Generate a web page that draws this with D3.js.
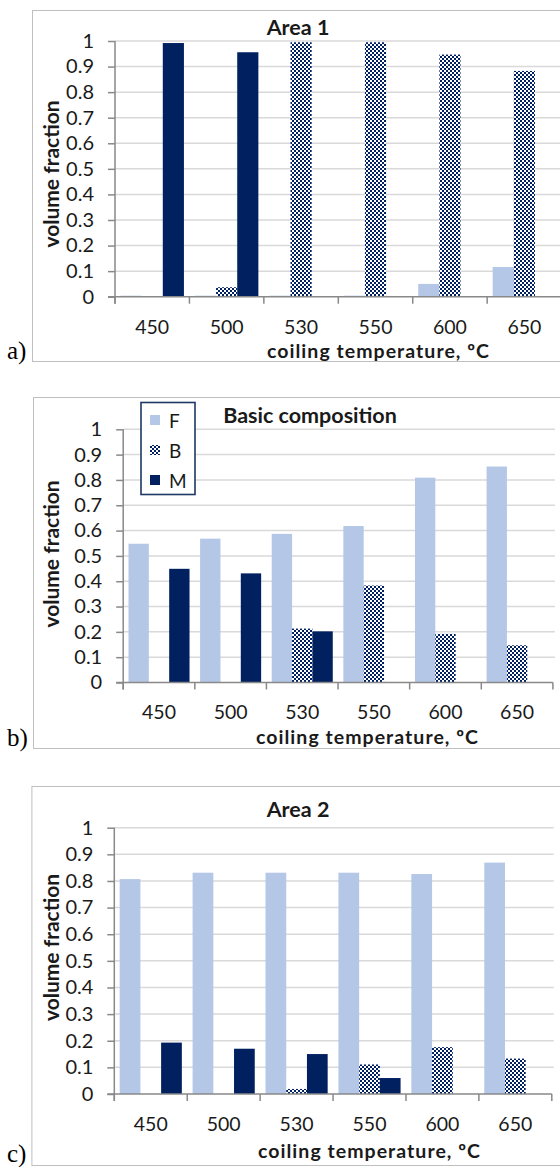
<!DOCTYPE html>
<html><head><meta charset="utf-8">
<script src="https://cdn.jsdelivr.net/npm/d3@7"></script>
<style>body{margin:0;background:#fff} svg{display:block}</style>
</head><body>
<svg id="c" width="560" height="1167"></svg>
<script>
// ---------- data ----------
const categories = ["450","500","530","550","600","650"];
const seriesNames = ["F","B","M"];
const yTickValues = [0,0.1,0.2,0.3,0.4,0.5,0.6,0.7,0.8,0.9,1];
const yTickLabels = ["0","0.1","0.2","0.3","0.4","0.5","0.6","0.7","0.8","0.9","1"];

const area1F = [0.004,0.004,0.004,0.004,0.050,0.116];
const area1B = [0,0.037,0.995,0.995,0.947,0.883];
const area1M = [0.992,0.956,0,0,0,0];

const basicF = [0.548,0.568,0.587,0.618,0.809,0.853];
const basicB = [0,0,0.213,0.383,0.192,0.147];
const basicM = [0.449,0.431,0.202,0,0,0];

const area2F = [0.807,0.831,0.831,0.831,0.826,0.869];
const area2B = [0,0,0.019,0.111,0.176,0.133];
const area2M = [0.193,0.170,0.150,0.060,0,0];

const titles = ["Area 1","Basic composition","Area 2"];
const panelLabels = ["a)","b)","c)"];
const xAxisTitle = "coiling temperature, \u00baC";
const yAxisTitle = "volume fraction";

// ---------- layout ----------
const panels = [
  {F:area1F,B:area1B,M:area1M,title:titles[0],label:panelLabels[0],
   frame:{x:32,y:10,b:361}, left:115,right:561.6,top:41,bottom:296.7,
   titleXY:[298,27], xLabY:326.5, xTitleXY:[378,350], yTitleXY:[50,174], labelY:359, legend:false},
  {F:basicF,B:basicB,M:basicM,title:titles[1],label:panelLabels[1],
   frame:{x:33,y:397,b:748}, left:123.2,right:552.9,top:429.3,bottom:682.5,
   titleXY:[310,415], xLabY:711, xTitleXY:[367,736], yTitleXY:[50,554], labelY:746, legend:true},
  {F:area2F,B:area2B,M:area2M,title:titles[2],label:panelLabels[2],
   frame:{x:31.4,y:786,b:1165}, left:114.3,right:551.8,top:827.7,bottom:1094,
   titleXY:[298,809], xLabY:1123, xTitleXY:[369,1150], yTitleXY:[50,947.5], labelY:1162, legend:false}
];

const colF = "#b4c7e7", colM = "#002060";
const font = "Lato, 'Open Sans', sans-serif";
const svg = d3.select("#c");

const defs = svg.append("defs");
const pat = defs.append("pattern").attr("id","chk").attr("width",4).attr("height",4)
  .attr("patternUnits","userSpaceOnUse");
pat.append("rect").attr("width",4).attr("height",4).attr("fill","#fff");
pat.append("rect").attr("width",2).attr("height",2).attr("fill",colM);
pat.append("rect").attr("x",2).attr("y",2).attr("width",2).attr("height",2).attr("fill",colM);

const fills = {F:colF, B:"url(#chk)", M:colM};

panels.forEach(p => {
  const g = svg.append("g");
  // frame
  g.append("rect").attr("x",p.frame.x+0.5).attr("y",p.frame.y+0.5)
    .attr("width",620).attr("height",p.frame.b-p.frame.y)
    .attr("fill","#fff").attr("stroke","#bfbfbf").attr("stroke-width",1);

  const x = d3.scaleBand().domain(categories).range([p.left,p.right]).paddingInner(0).paddingOuter(0);
  const xi = d3.scaleBand().domain(seriesNames).range([0,x.bandwidth()]).paddingInner(0).paddingOuter(0.26);
  const y = d3.scaleLinear().domain([0,1]).range([p.bottom,p.top]);

  // gridlines
  g.append("g").selectAll("line").data(yTickValues.filter(v=>v>0)).join("line")
    .attr("x1",p.left).attr("x2",p.right+2).attr("y1",d=>y(d)).attr("y2",d=>y(d))
    .attr("stroke","#d9d9d9").attr("stroke-width",1.5);

  // bars
  const bars = [];
  categories.forEach((c,i)=>seriesNames.forEach(s=>{
    const v = p[s][i];
    if (v>0) bars.push({c,s,v});
  }));
  g.append("g").selectAll("rect").data(bars).join("rect")
    .attr("x",d=>x(d.c)+xi(d.s)).attr("width",xi.bandwidth())
    .attr("y",d=>y(d.v)).attr("height",d=>y(0)-y(d.v))
    .attr("fill",d=>fills[d.s]);

  // y axis
  const ya = d3.axisLeft(y).tickValues(yTickValues).tickFormat((d,i)=>yTickLabels[i]).tickSize(7).tickPadding(14);
  const yg = g.append("g").attr("transform",`translate(${p.left},0)`).call(ya);
  yg.select(".domain").remove();
  yg.selectAll(".tick line").attr("stroke","#898989").attr("stroke-width",1.5);
  yg.selectAll(".tick text").attr("font-family",font).attr("font-size",20).attr("fill","#1a1a1a");
  g.append("line").attr("x1",p.left).attr("x2",p.left).attr("y1",p.top).attr("y2",p.bottom+7)
    .attr("stroke","#898989").attr("stroke-width",1.5);

  // x axis
  const xa = d3.axisBottom(x).tickSize(0).tickPadding(0);
  const xg = g.append("g").attr("transform",`translate(0,${p.bottom})`).call(xa);
  xg.select(".domain").remove();
  xg.selectAll(".tick text").attr("font-family",font).attr("font-size",19.5).attr("fill","#1a1a1a")
    .attr("dy",null).attr("y",p.xLabY-p.bottom).attr("dominant-baseline","central");
  g.append("line").attr("x1",p.left-7).attr("x2",p.right).attr("y1",p.bottom).attr("y2",p.bottom)
    .attr("stroke","#898989").attr("stroke-width",1.5);
  const bounds = categories.map(c=>x(c)).concat([p.right]);
  g.append("g").selectAll("line").data(bounds).join("line")
    .attr("x1",d=>d).attr("x2",d=>d).attr("y1",p.bottom).attr("y2",p.bottom+7)
    .attr("stroke","#898989").attr("stroke-width",1.5);

  // titles
  g.append("text").attr("x",p.titleXY[0]).attr("y",p.titleXY[1]).attr("text-anchor","middle")
    .attr("dominant-baseline","central").attr("font-family",font).attr("font-weight","bold")
    .attr("font-size",21.5).attr("fill","#1a1a1a").text(p.title);
  g.append("text").attr("x",p.xTitleXY[0]).attr("y",p.xTitleXY[1]).attr("text-anchor","middle")
    .attr("dominant-baseline","central").attr("font-family",font).attr("font-weight","bold")
    .attr("font-size",19.5).attr("textLength",222).attr("lengthAdjust","spacing")
    .attr("fill","#1a1a1a").text(xAxisTitle);
  g.append("text").attr("transform",`translate(${p.yTitleXY[0]},${p.yTitleXY[1]}) rotate(-90)`)
    .attr("text-anchor","middle").attr("dominant-baseline","central").attr("font-family",font)
    .attr("font-weight","bold").attr("font-size",21).attr("fill","#1a1a1a").text(yAxisTitle);
  // panel label
  g.append("text").attr("x",7).attr("y",p.labelY).attr("font-family","'Liberation Serif', serif")
    .attr("font-size",25).attr("fill","#000").text(p.label);

  if (p.legend) {
    const lg = g.append("g");
    lg.append("rect").attr("x",141).attr("y",402.5).attr("width",54).attr("height",92)
      .attr("fill","#fff").attr("stroke","#1f3864").attr("stroke-width",1.6);
    const rowsY = [420,450,480];
    seriesNames.forEach((s,i)=>{
      lg.append("rect").attr("x",150).attr("y",rowsY[i]-5).attr("width",10).attr("height",10).attr("fill",fills[s]);
      lg.append("text").attr("x",169).attr("y",rowsY[i]).attr("dominant-baseline","central")
        .attr("font-family",font).attr("font-size",19).attr("fill","#1a1a1a").text(s);
    });
  }
});
</script>
</body></html>
